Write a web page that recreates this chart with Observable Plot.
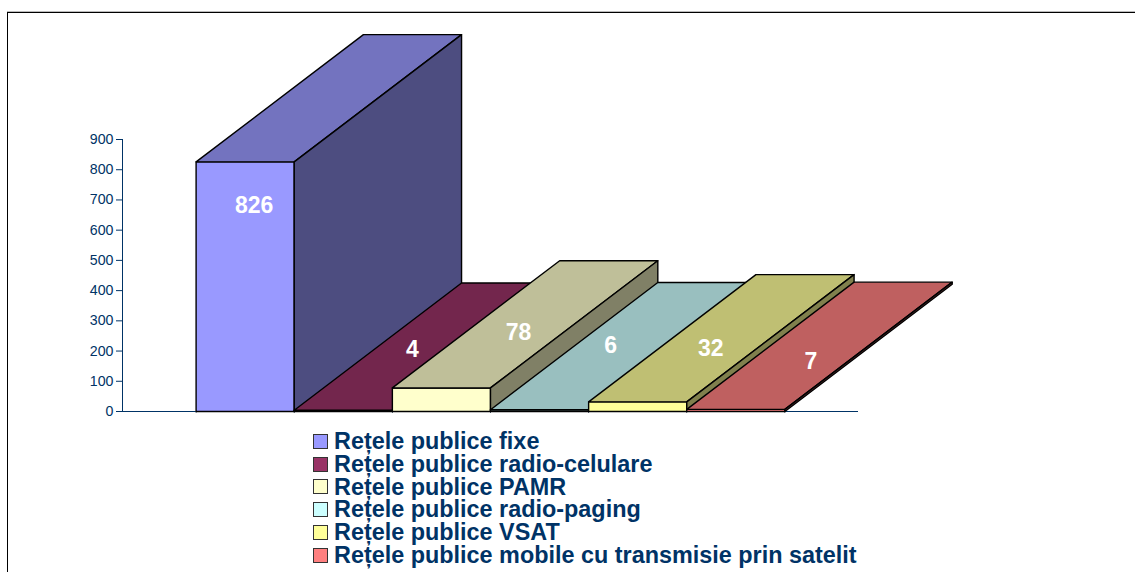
<!DOCTYPE html>
<html>
<head>
<meta charset="utf-8">
<script src="https://cdn.jsdelivr.net/npm/d3@7"></script>
<script src="https://cdn.jsdelivr.net/npm/@observablehq/plot@0.6"></script>
<style>
  html, body { margin: 0; padding: 0; background: #fff; overflow: hidden; }
  body { width: 1135px; height: 572px; position: relative; font-family: "Liberation Sans", Arial, sans-serif; }
  #frame { position: absolute; left: 7px; top: 12px; right: -4px; bottom: -4px;
           border-left: 1.5px solid #000; border-top: 1.5px solid #000; box-shadow: 0 -1px 0 #bbb; pointer-events: none; }
  #chart svg { display: block; }
  #legend { position: absolute; left: 313px; top: 430px; color: #003366; font-weight: bold; font-size: 23.4px; }
  .row { height: 22.8px; line-height: 22.8px; white-space: nowrap; display: flex; align-items: center; }
  .sw { width: 13px; height: 13px; border: 1.5px solid #333; margin-right: 6px; flex: none; }
</style>
</head>
<body>
<div id="chart"></div>
<div id="frame"></div>
<div id="legend"></div>
<script>
const categories = [
  "Rețele publice fixe",
  "Rețele publice radio-celulare",
  "Rețele publice PAMR",
  "Rețele publice radio-paging",
  "Rețele publice VSAT",
  "Rețele publice mobile cu transmisie prin satelit"
];
const values = [826, 4, 78, 6, 32, 7];
const colors = ["#9999ff", "#993366", "#ffffcc", "#ccffff", "#ffff99", "#ff8080"];
const yTicks = [0, 100, 200, 300, 400, 500, 600, 700, 800, 900];

// Oblique projection of the 3D depth, in scale units
const depthX = 1.705;
const depthY = 421;
// Hand-placed offsets of the data labels, in pixels from the bar's top-centre
const labelShift = [[9, 44], [69, -61], [77, -55], [71, -64], [73, -53], [75, -48]];

const shade = (c, k) => { const r = d3.rgb(c); return d3.rgb(r.r * k, r.g * k, r.b * k).formatHex(); };
const closed = pts => [...pts, pts[0]];
const face = (pts, fill) => Plot.line(closed(pts), { x: d => d[0], y: d => d[1], fill, stroke: "#000", strokeWidth: 1.4 });

const bars = values.flatMap((v, i) => {
  const a = i, b = i + 1;
  return [
    face([[a, 0], [b, 0], [b, v], [a, v]], colors[i]),
    face([[a, v], [b, v], [b + depthX, v + depthY], [a + depthX, v + depthY]], shade(colors[i], 0.75)),
    face([[b, 0], [b, v], [b + depthX, v + depthY], [b + depthX, depthY]], shade(colors[i], 0.5))
  ];
});
const labels = values.map((v, i) =>
  Plot.text([v], {
    x: () => i + 0.5, y: d => d, text: d => String(d),
    dx: labelShift[i][0], dy: labelShift[i][1],
    fill: "#fff", fontWeight: "bold", fontSize: 23, fontFamily: "Liberation Sans, Arial, sans-serif", textAnchor: "middle"
  })
);

const plot = Plot.plot({
  width: 1135, height: 430,
  marginLeft: 122, marginRight: 277, marginTop: 139, marginBottom: 19,
  style: { background: "transparent", overflow: "visible", fontFamily: "Liberation Sans, Arial, sans-serif" },
  x: { domain: [-0.75, 6.75], axis: null },
  y: { domain: [0, 900], axis: null },
  marks: [
    Plot.ruleY([0], { stroke: "#003366", strokeWidth: 1 }),
    Plot.ruleX([-0.75], { y1: 0, y2: 900, stroke: "#003366", strokeWidth: 1 }),
    Plot.axisX({ ticks: d3.range(0, 7), tickSize: 2, text: null, label: null, stroke: "#667788" }),
    Plot.axisY({ ticks: yTicks, tickSize: 6, tickPadding: 3, label: null, color: "#003366", fontSize: 14.2 }),
    ...bars,
    ...labels
  ]
});
document.getElementById("chart").append(plot);

const legend = d3.select("#legend");
categories.forEach((c, i) => {
  const row = legend.append("div").attr("class", "row");
  row.append("span").attr("class", "sw").style("background", colors[i]);
  row.append("span").text(c);
});
</script>
</body>
</html>
